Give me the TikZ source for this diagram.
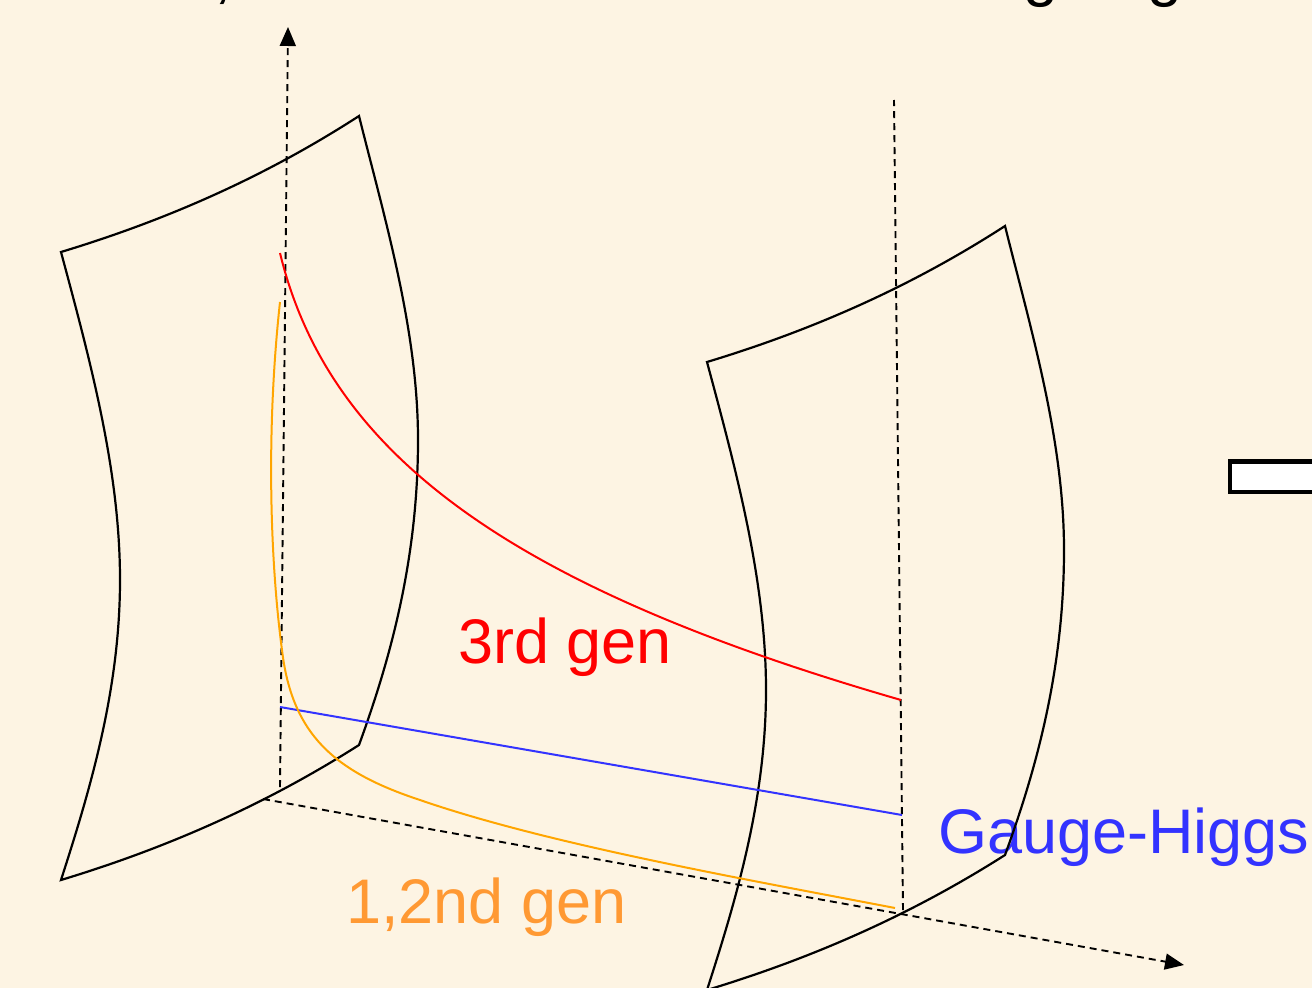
\documentclass[tikz,border=0pt]{standalone}
\usepackage{fontspec}
\setmainfont{Liberation Sans}
\usetikzlibrary{arrows.meta}
\definecolor{bg}{RGB}{253,244,227}
\definecolor{redc}{RGB}{255,0,0}
\definecolor{bluec}{RGB}{51,51,255}
\definecolor{orangetext}{RGB}{255,153,51}
\definecolor{orangecurve}{RGB}{255,165,0}
\tikzset{
  sheet/.style={line width=2.2pt, draw=black, line join=miter},
  axis/.style={line width=1.9pt, dash pattern=on 7pt off 5pt, draw=black},
  axisarrow/.style={-{Triangle[length=19pt,width=16pt]}},
  lbl/.style={inner sep=0pt, anchor=base west, font=\fontsize{63}{70}\selectfont},
  curve/.style={line width=2.0pt},
}
\newcommand{\sheetpath}{(61,252) .. controls (160,222) and (260,180) .. (359,116)
  .. controls (385,220) and (418,330) .. (418,440)
  .. controls (418,560) and (390,660) .. (359,745)
  .. controls (260,808) and (160,850) .. (61,880)
  .. controls (90,790) and (120,690) .. (120,580)
  .. controls (120,470) and (90,360) .. cycle}
\begin{document}
\begin{tikzpicture}[x=1pt,y=-1pt]
\useasboundingbox (0,0) rectangle (1312,988);
\fill[bg] (0,0) rectangle (1312,988);
% cut-off title fragments
\node[lbl, text=black] (comma) at (214,-4) {,};
\node[lbl, text=black] (g1) at (1023,-6) {g};
\node[lbl, text=black] (g2) at (1147,-6) {g};
% labels
\node[lbl, text=redc] (third) at (458,663) {3rd gen};
\node[lbl, text=bluec] (gh) at (938,853) {Gauge-Higgs};
\node[lbl, text=orangetext] (first) at (346,923) {1,2nd gen};
% sheets
\draw[sheet] \sheetpath;
\begin{scope}[shift={(646,110)}]
\draw[sheet] \sheetpath;
\end{scope}
% axes
\coordinate (vo) at (280,787);
\coordinate (vt) at (288,27);
\coordinate (ho) at (263,799);
\coordinate (ht) at (1184,965);
\coordinate (rb) at (903,910);
\coordinate (rt) at (894,100);
\draw[axis, axisarrow] (vo) -- (vt);
\draw[axis, axisarrow] (ho) -- (ht);
\draw[axis] (rb) -- (rt);
% curves
\coordinate (r0) at (280,253);
\coordinate (r1) at (901,700);
\draw[curve, redc] (r0) .. controls (330,460) and (520,590) .. (r1);
\coordinate (b0) at (280,707);
\coordinate (b1) at (902,815);
\draw[curve, bluec] (b0) -- (b1);
\coordinate (o0) at (280,302);
\coordinate (o1) at (895,908);
\draw[curve, orangecurve] (o0) .. controls (266,430) and (270,560) .. (282,650)
  .. controls (292,735) and (335,772) .. (420,800)
  .. controls (550,845) and (750,880) .. (o1);
% right-hand box
\draw[line width=4.5pt, fill=white] (1230,461.5) rectangle (1340,492);
\end{tikzpicture}
\end{document}
